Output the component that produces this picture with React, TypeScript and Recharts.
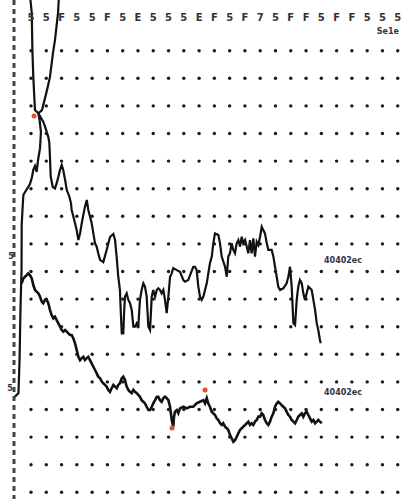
import { ComposedChart, Line, Scatter, XAxis, YAxis, ReferenceDot } from 'recharts';

// grid positions (one unit per dot column / dot row)
const columnTicks = [0, 1, 2, 3, 4, 5, 6, 7, 8, 9, 10, 11, 12, 13, 14, 15, 16, 17, 18, 19, 20, 21, 22, 23, 24];
const rowTicks = [0, 1, 2, 3, 4, 5, 6, 7, 8, 9, 10, 11, 12, 13, 14, 15, 16];
const topLabels = ['5', '5', 'F', '5', '5', 'F', '5', 'E', '5', '5', '5', 'E', 'F', '5', 'F', '7', '5', 'F', 'F', '5', 'F', 'F', '5', '5', '5'];
const topLabelRow = 17.2;

// steep start that runs off the top of the screen
const spike = [
  [-0.07, 18.02], [0.05, 17.37], [0.09, 16.03], [0.15, 15.05], [0.26, 13.85], [0.48, 13.73],
  [0.72, 13.85], [1.05, 14.58], [1.24, 15.05], [1.44, 15.92], [1.57, 16.39], [1.77, 17.37], [1.83, 18.02],
];

const upper = [
  [-1.15, 3.45], [-1.05, 3.46], [-0.82, 3.6], [-0.75, 4.79], [-0.69, 6.61], [-0.62, 8.05], [-0.61, 9.69],
  [-0.54, 10.41], [-0.5, 10.77], [-0.39, 10.88], [-0.26, 10.99], [-0.07, 11.17], [0.05, 11.39], [0.15, 11.68],
  [0.26, 11.82], [0.37, 11.61], [0.46, 12.04], [0.59, 12.47], [0.65, 13.05], [0.56, 13.49], [0.48, 13.73],
  [0.8, 13.43], [0.92, 13.25], [1.13, 12.88], [1.2, 12.65], [1.24, 12.16], [1.29, 11.43], [1.42, 11.07],
  [1.57, 11.01], [1.68, 11.2], [1.79, 11.43], [1.9, 11.68], [2.01, 11.86], [2.11, 11.68], [2.23, 11.32],
  [2.34, 10.95], [2.51, 10.71], [2.62, 10.47], [2.66, 10.23], [2.77, 9.99], [2.88, 9.75], [2.99, 9.5],
  [3.1, 9.14], [3.21, 9.38], [3.32, 9.75], [3.53, 10.35], [3.65, 10.59], [3.75, 10.23], [3.86, 9.99],
  [3.97, 9.75], [4.08, 9.38], [4.19, 9.02], [4.3, 8.9], [4.4, 8.66], [4.52, 8.42], [4.73, 8.34],
  [4.95, 8.78], [5.17, 9.25], [5.39, 9.36], [5.5, 9.14], [5.61, 8.49], [5.71, 7.81], [5.82, 7.33],
  [5.87, 6.61], [5.94, 5.76], [6.04, 5.76], [6.09, 6.49], [6.15, 7.09], [6.26, 7.21], [6.37, 6.97],
  [6.48, 6.85], [6.59, 6.61], [6.7, 6.0], [6.81, 6.0], [6.92, 6.12], [7.02, 6.0], [7.13, 6.97],
  [7.24, 7.33], [7.35, 7.57], [7.46, 7.45], [7.57, 7.09], [7.68, 6.0], [7.79, 5.88], [7.9, 7.09],
  [8.0, 7.33], [8.12, 7.09], [8.23, 7.33], [8.33, 7.39], [8.44, 7.33], [8.55, 7.21], [8.66, 7.33],
  [8.77, 6.97], [8.88, 6.49], [8.99, 7.09], [9.1, 7.81], [9.21, 7.93], [9.31, 8.12], [9.54, 8.05],
  [9.75, 7.99], [9.97, 7.69], [10.08, 7.63], [10.29, 7.69], [10.41, 7.87], [10.62, 8.17], [10.73, 8.17],
  [10.84, 8.05], [10.95, 7.45], [11.06, 7.09], [11.17, 6.97], [11.28, 7.09], [11.5, 7.57], [11.71, 8.3],
  [11.83, 8.54], [11.93, 9.02], [12.04, 9.38], [12.26, 9.32], [12.37, 9.02], [12.48, 8.54], [12.7, 8.17],
  [12.81, 7.81], [12.91, 8.54], [13.02, 8.66], [13.13, 9.02], [13.24, 8.78], [13.35, 8.66], [13.46, 9.02],
  [13.57, 9.14], [13.68, 8.9], [13.79, 9.26], [13.89, 9.02], [14.01, 9.14], [14.12, 8.9], [14.22, 8.66],
  [14.33, 9.14], [14.44, 8.66], [14.55, 9.2], [14.66, 8.54], [14.77, 9.08], [14.88, 8.96], [14.99, 9.26],
  [15.1, 9.62], [15.2, 9.5], [15.31, 9.38], [15.43, 9.02], [15.53, 8.78], [15.75, 8.78], [15.86, 8.54],
  [15.97, 8.17], [16.08, 7.81], [16.18, 7.45], [16.3, 7.33], [16.51, 7.39], [16.73, 7.57], [16.84, 7.81],
  [16.95, 8.17], [17.06, 7.45], [17.17, 6.12], [17.28, 6.06], [17.39, 6.97], [17.49, 7.45], [17.6, 7.69],
  [17.72, 7.57], [17.82, 7.21], [17.93, 6.97], [18.04, 7.21], [18.15, 7.45], [18.26, 7.39], [18.37, 7.33],
  [18.48, 6.97], [18.59, 6.61], [18.7, 6.12], [18.8, 5.88], [18.91, 5.52], [18.96, 5.4],
];

const lower = [
  [-0.61, 7.57], [-0.5, 7.75], [-0.39, 7.81], [-0.28, 7.87], [-0.18, 7.93], [-0.07, 7.87], [0.05, 7.75],
  [0.15, 7.51], [0.26, 7.33], [0.37, 7.27], [0.48, 7.21], [0.59, 7.09], [0.7, 6.91], [0.8, 6.85],
  [0.92, 6.97], [1.03, 6.97], [1.13, 6.85], [1.24, 6.61], [1.35, 6.42], [1.46, 6.3], [1.57, 6.36],
  [1.68, 6.24], [1.79, 6.12], [1.9, 6.0], [2.01, 5.88], [2.11, 5.82], [2.23, 5.88], [2.34, 5.82],
  [2.44, 5.76], [2.55, 5.7], [2.66, 5.7], [2.77, 5.58], [2.88, 5.4], [2.99, 5.16], [3.1, 4.91],
  [3.21, 4.79], [3.32, 4.86], [3.42, 4.91], [3.53, 4.79], [3.65, 4.86], [3.75, 4.91], [3.86, 4.79],
  [3.97, 4.67], [4.08, 4.55], [4.19, 4.43], [4.3, 4.31], [4.4, 4.19], [4.52, 4.13], [4.63, 4.01],
  [4.73, 3.95], [4.84, 3.89], [4.95, 3.83], [5.06, 3.71], [5.17, 3.64], [5.28, 3.77], [5.39, 3.89],
  [5.5, 3.83], [5.61, 3.77], [5.71, 3.89], [5.82, 3.95], [5.94, 4.13], [6.04, 4.19], [6.15, 4.07],
  [6.26, 3.83], [6.37, 3.71], [6.48, 3.64], [6.59, 3.59], [6.7, 3.71], [6.81, 3.64], [6.92, 3.59],
  [7.02, 3.53], [7.13, 3.46], [7.24, 3.34], [7.35, 3.28], [7.46, 3.22], [7.57, 3.1], [7.68, 2.98],
  [7.79, 2.98], [7.9, 3.1], [8.0, 3.22], [8.12, 3.34], [8.23, 3.46], [8.33, 3.46], [8.44, 3.34],
  [8.55, 3.28], [8.66, 3.41], [8.77, 3.46], [8.88, 3.41], [8.99, 3.34], [9.1, 3.1], [9.21, 2.62],
  [9.31, 2.38], [9.36, 2.74], [9.42, 2.92], [9.54, 2.98], [9.64, 2.86], [9.75, 3.04], [9.97, 3.1],
  [10.19, 3.04], [10.41, 3.1], [10.62, 3.1], [10.84, 3.22], [11.06, 3.28], [11.28, 3.34], [11.39, 3.22],
  [11.5, 3.41], [11.6, 3.22], [11.71, 3.1], [11.83, 2.92], [11.93, 2.86], [12.04, 2.8], [12.15, 2.68],
  [12.26, 2.62], [12.37, 2.5], [12.48, 2.44], [12.58, 2.5], [12.7, 2.38], [12.81, 2.32], [12.91, 2.26],
  [13.02, 2.08], [13.13, 1.96], [13.24, 1.83], [13.35, 1.89], [13.46, 2.01], [13.57, 2.14], [13.68, 2.26],
  [13.79, 2.32], [13.89, 2.38], [14.01, 2.44], [14.12, 2.5], [14.22, 2.56], [14.33, 2.44], [14.44, 2.5],
  [14.55, 2.44], [14.66, 2.56], [14.77, 2.62], [14.88, 2.74], [14.99, 2.74], [15.1, 2.86], [15.2, 2.8],
  [15.31, 2.62], [15.43, 2.5], [15.53, 2.44], [15.64, 2.56], [15.75, 2.74], [15.86, 2.86], [15.97, 3.1],
  [16.08, 3.22], [16.18, 3.28], [16.3, 3.22], [16.4, 3.16], [16.51, 3.1], [16.62, 3.04], [16.73, 2.92],
  [16.84, 2.8], [16.95, 2.74], [17.06, 2.62], [17.17, 2.56], [17.28, 2.5], [17.39, 2.62], [17.49, 2.74],
  [17.6, 2.8], [17.72, 2.86], [17.82, 2.74], [17.93, 2.86], [18.04, 2.92], [18.15, 2.8], [18.26, 2.68],
  [18.37, 2.56], [18.48, 2.62], [18.59, 2.5], [18.7, 2.56], [18.8, 2.62], [18.91, 2.56], [19.03, 2.5],
];

// small red markers on the traces
const markers = [
  [0.2, 13.63], [9.23, 2.33], [11.39, 3.71],
];

// free text labels: [x, y, text]
const labels: [number, number, string][] = [
  [23.36, 16.71, 'Se1e'],
  [20.42, 8.42, '40402ec'],
  [20.42, 3.63, '40402ec'],
  [-1.31, 8.56, '5'],
  [-1.37, 3.78, '5'],
];

const toPoints = (pairs: number[][]) => pairs.map(([x, y]) => ({ x, y }));
const gridDots = columnTicks.flatMap((x) => rowTicks.map((y) => ({ x, y })));

const Dot = (props: any) => <circle cx={props.cx} cy={props.cy} r={1.7} fill="#1a1a1a" />;

export default function App() {
  return (
    <div style={{ position: 'absolute', left: 0, top: 0, background: '#fff', fontFamily: 'DejaVu Sans' }}>
      <ComposedChart width={404} height={499} margin={{ top: 0, right: 0, bottom: 0, left: 0 }}>
        <XAxis type="number" dataKey="x" hide domain={[-1.113, 24.41]} allowDataOverflow />
        <YAxis
          type="number"
          dataKey="y"
          width={14}
          domain={[-0.243, 17.837]}
          allowDataOverflow
          tick={false}
          tickLine={false}
          axisLine={{ stroke: '#444', strokeWidth: 3, strokeDasharray: '5 4' }}
        />
        <Scatter data={gridDots} dataKey="y" shape={Dot} isAnimationActive={false} />
        <Line data={toPoints(spike)} dataKey="y" type="linear" dot={false} stroke="#111" strokeWidth={2.2} isAnimationActive={false} />
        <Line data={toPoints(upper)} dataKey="y" type="linear" dot={false} stroke="#111" strokeWidth={2.2} isAnimationActive={false} />
        <Line data={toPoints(lower)} dataKey="y" type="linear" dot={false} stroke="#111" strokeWidth={2.6} isAnimationActive={false} />
        {markers.map(([x, y], i) => (
          <ReferenceDot key={`m${i}`} x={x} y={y} r={2.5} fill="#e0502a" stroke="none" ifOverflow="visible" />
        ))}
        {columnTicks.map((x) => (
          <ReferenceDot
            key={`t${x}`}
            x={x}
            y={topLabelRow}
            r={0}
            stroke="none"
            ifOverflow="visible"
            label={{ value: topLabels[x], position: 'center', fontSize: 10, fontWeight: 'bold', fill: '#333' }}
          />
        ))}
        {labels.map(([x, y, text], i) => (
          <ReferenceDot
            key={`l${i}`}
            x={x}
            y={y}
            r={0}
            stroke="none"
            ifOverflow="visible"
            label={{ value: text, position: 'center', fontSize: 8, fontWeight: 'bold', fill: '#334' }}
          />
        ))}
      </ComposedChart>
    </div>
  );
}
